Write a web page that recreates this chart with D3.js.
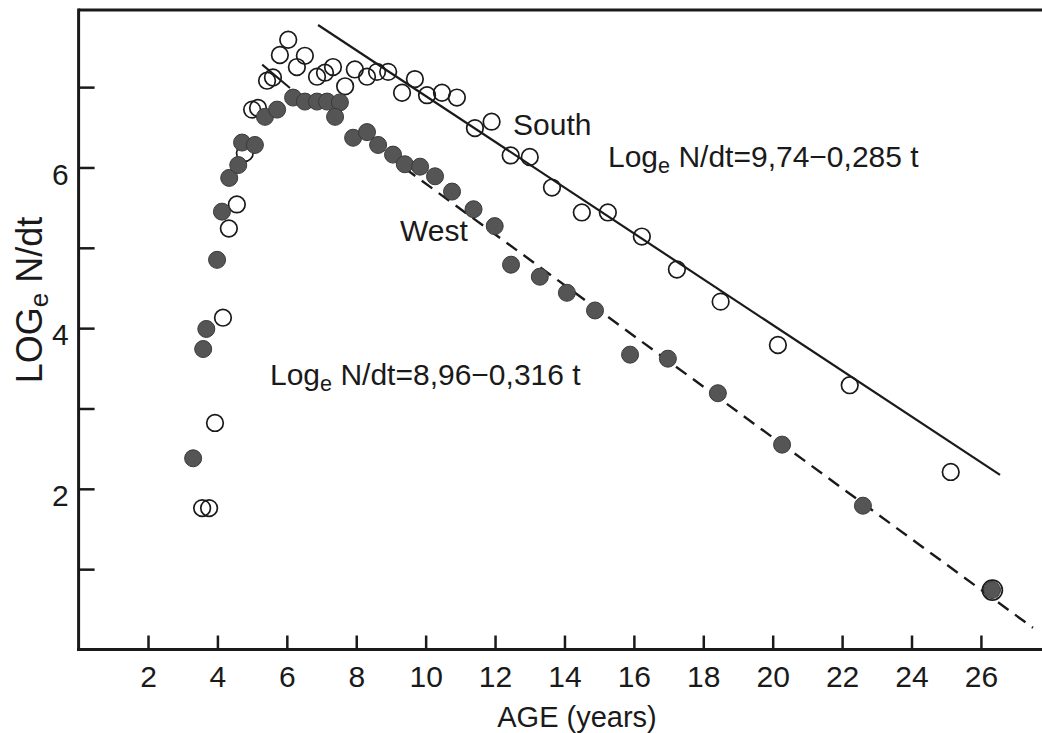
<!DOCTYPE html>
<html><head><meta charset="utf-8">
<script src="https://cdn.jsdelivr.net/npm/d3@7"></script>
<style>
html,body{margin:0;padding:0;background:#fff;}
text{font-family:"Liberation Sans",Arial,sans-serif;fill:#1a1a1a;}
</style>
</head><body>
<svg id="chart" width="1042" height="733"></svg>
<script>
// ---- data ----
const westAge = [3.30,3.59,3.68,3.99,4.13,4.34,4.60,4.71,5.08,5.37,5.72,6.18,6.52,6.87,7.16,7.53,7.39,7.91,8.31,8.63,9.06,9.40,9.84,10.27,10.76,11.38,11.99,12.46,13.29,14.07,14.88,15.89,16.98,18.42,20.27,22.60,26.32];
const westVal = [2.38,3.74,3.99,4.85,5.45,5.87,6.03,6.31,6.28,6.63,6.72,6.87,6.82,6.82,6.82,6.81,6.63,6.37,6.44,6.28,6.16,6.04,6.01,5.89,5.70,5.48,5.27,4.79,4.64,4.44,4.22,3.67,3.62,3.19,2.55,1.79,0.74];
const southAge = [3.56,3.76,3.93,4.16,4.33,4.56,4.79,5.00,5.17,5.43,5.60,5.80,6.04,6.29,6.52,6.87,7.10,7.33,7.68,7.96,8.31,8.60,8.92,9.32,9.69,10.04,10.47,10.90,11.42,11.90,12.45,13.00,13.64,14.50,15.25,16.23,17.24,18.50,20.15,22.22,25.13,26.33];
const southVal = [1.76,1.76,2.82,4.13,5.24,5.54,6.18,6.72,6.74,7.08,7.12,7.40,7.59,7.25,7.39,7.13,7.18,7.25,7.01,7.22,7.13,7.19,7.19,6.93,7.10,6.90,6.93,6.87,6.49,6.57,6.15,6.13,5.75,5.44,5.44,5.14,4.73,4.33,3.79,3.29,2.21,0.74];
const xTickValues = [2,4,6,8,10,12,14,16,18,20,22,24,26];
const yTickValues = [1,2,3,4,5,6,7];
const yTickLabels = ["","2","","4","","6",""];
const southFit = {a:9.74, b:0.285, from:6.9, to:26.55};
const westFit  = {a:8.96, b:0.316, from:9.4, to:27.5};
const stubAge = [5.29, 6.09];
const stubVal = [7.28, 6.99];

// ---- drawing ----
const svg = d3.select("#chart");
const x = d3.scaleLinear().domain([0, 27.76]).range([78.6, 1042]);
const y = d3.scaleLinear().domain([0, 7.96]).range([649.5, 10]);
const ink = "#1a1a1a";

// top frame line
svg.append("line").attr("x1", x(0)).attr("x2", 1050).attr("y1", y(7.96)).attr("y2", y(7.96))
  .attr("stroke", ink).attr("stroke-width", 3);

// fit lines
function fitPts(f){ return [f.from, f.to].map(t => [t, f.a - f.b*t]); }
const line = d3.line().x(d => x(d[0])).y(d => y(d[1]));
svg.append("path").attr("d", line(fitPts(southFit))).attr("fill","none").attr("stroke", ink).attr("stroke-width", 2.2);
svg.append("path").attr("d", line(fitPts(westFit))).attr("fill","none").attr("stroke", ink).attr("stroke-width", 2.4).attr("stroke-dasharray","13,8");
svg.append("path").attr("d", line(stubAge.map((a,i)=>[a, stubVal[i]]))).attr("fill","none").attr("stroke", ink).attr("stroke-width", 2);

// axes
const xAxis = d3.axisBottom(x).tickValues(xTickValues).tickSize(-14).tickSizeOuter(0).tickPadding(16).tickFormat(d3.format("d"));
const gx = svg.append("g").attr("transform", `translate(0,${y(0)})`).call(xAxis);
gx.select(".domain").attr("d", `M${x(0)-1.5},0H1050`).attr("stroke", ink).attr("stroke-width", 3);
gx.selectAll(".tick line").attr("stroke", ink).attr("stroke-width", 2.5);
gx.selectAll(".tick text").attr("font-size", 30).attr("font-family", '"Liberation Sans",Arial,sans-serif').attr("fill", ink);

const yAxis = d3.axisLeft(y).tickValues(yTickValues).tickSize(-16).tickSizeOuter(0).tickPadding(10)
  .tickFormat((d,i) => yTickLabels[i]);
const gy = svg.append("g").attr("transform", `translate(${x(0)},0)`).call(yAxis);
gy.select(".domain").attr("d", `M0,${y(7.96)-1.5}V${y(0)+1.5}`).attr("stroke", ink).attr("stroke-width", 3);
gy.selectAll(".tick line").attr("stroke", ink).attr("stroke-width", 2.5);
gy.selectAll(".tick text").attr("font-size", 30).attr("y", 7).attr("font-family", '"Liberation Sans",Arial,sans-serif').attr("fill", ink);

// points: open (South) then filled (West)
const south = southAge.map((a,i)=>({a, v: southVal[i]}));
const west = westAge.map((a,i)=>({a, v: westVal[i]}));
svg.append("g").selectAll("circle").data(south.slice(0, -1)).join("circle")
  .attr("cx", d=>x(d.a)).attr("cy", d=>y(d.v)).attr("r", 8.3)
  .attr("fill","none").attr("stroke", ink).attr("stroke-width", 1.7);
svg.append("g").selectAll("circle").data(west).join("circle")
  .attr("cx", d=>x(d.a)).attr("cy", d=>y(d.v)).attr("r", 8.5)
  .attr("fill","#555").attr("stroke","#3a3a3a").attr("stroke-width", 1);
// last South point drawn on top (ring around the West point)
svg.append("g").selectAll("circle").data(south.slice(-1)).join("circle")
  .attr("cx", d=>x(d.a)).attr("cy", d=>y(d.v)).attr("r", 10)
  .attr("fill","none").attr("stroke", ink).attr("stroke-width", 1.7);

// labels
function eqText(xp, yp, txt, size){
  const t = svg.append("text").attr("x", xp).attr("y", yp).attr("font-size", size);
  t.append("tspan").text("Log");
  t.append("tspan").attr("font-size", size*0.72).attr("dy", size*0.2).text("e");
  t.append("tspan").attr("dy", -size*0.2).text(" " + txt);
  return t;
}
svg.append("text").attr("x", 513).attr("y", 135).attr("font-size", 30).text("South");
svg.append("text").attr("x", 400).attr("y", 241).attr("font-size", 30).text("West");
eqText(608, 167, "N/dt=9,74\u22120,285 t", 30);
eqText(270, 385, "N/dt=8,96\u22120,316 t", 30);

// axis titles
svg.append("text").attr("x", 577).attr("y", 727).attr("text-anchor","middle").attr("font-size", 29).text("AGE (years)");
const yl = svg.append("text").attr("transform", "translate(42,300) rotate(-90)").attr("text-anchor","middle").attr("font-size", 36);
yl.append("tspan").text("LOG");
yl.append("tspan").attr("font-size", 26).attr("dy", 6).text("e");
yl.append("tspan").attr("dy", -6).text(" N/dt");
</script>
</body></html>
